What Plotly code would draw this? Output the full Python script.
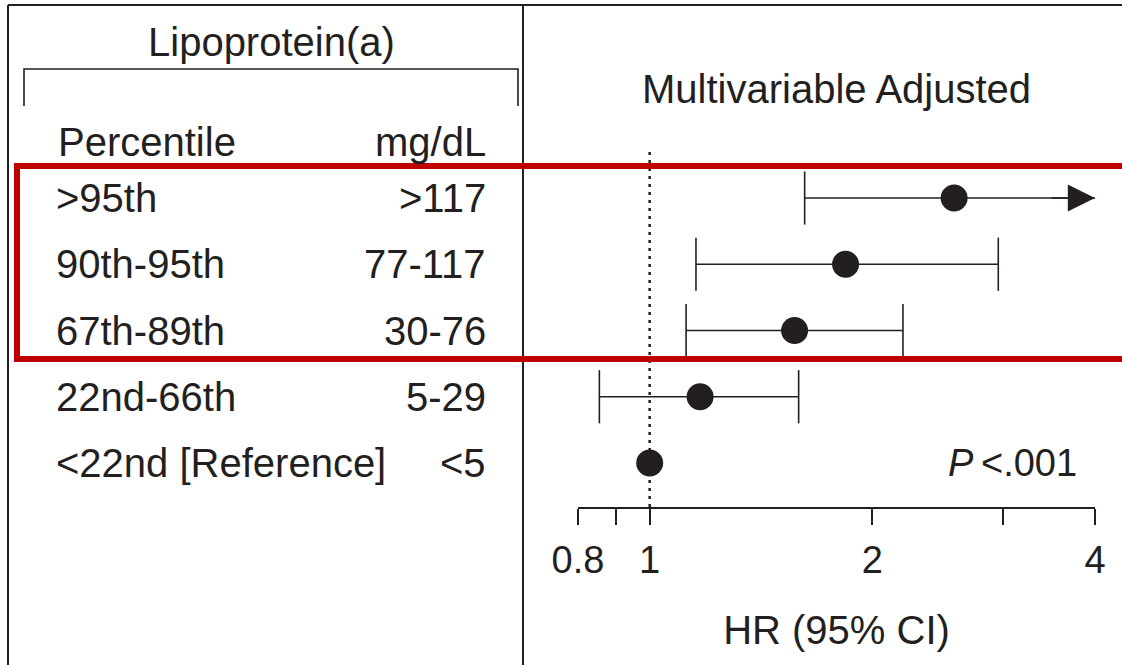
import math
import plotly.graph_objects as go

W, H = 1122, 665

# ---------------- data ----------------
percentiles = [">95th", "90th-95th", "67th-89th", "22nd-66th", "<22nd [Reference]"]
mg_dl = [">117", "77-117", "30-76", "5-29", "<5"]
hr = [2.58, 1.84, 1.57, 1.17, 1.0]
ci_low = [1.62, 1.155, 1.12, 0.855, None]
ci_high = [float("inf"), 2.96, 2.20, 1.59, None]  # inf = beyond the axis (arrow)
tick_vals = [0.8, 0.9, 1, 2, 3, 4]
tick_text = ["0.8", "", "1", "2", "", "4"]
x_min, x_max = 0.8, 4
reference_hr = 1
p_value_text = "<i>P</i>\u2009&lt;.001"
group_title = "Lipoprotein(a)"
col_headers = ["Percentile", "mg/dL"]
panel_title = "Multivariable Adjusted"
x_title = "HR (95% CI)"

# ---------------- style ----------------
INK = "#231F20"
FONT = "Liberation Sans, Arial, Helvetica, sans-serif"
FS = 40
FS_TICK = 38


def fx(px):
    return px / W


def fy(py):
    return 1 - py / H


def esc(s):
    return s.replace("<", "&lt;").replace(">", "&gt;")


rows_y = list(range(len(percentiles) - 1, -1, -1))

# plot-area geometry (pixels)
row_px_first, row_px_last = 198, 463
spacing = (row_px_last - row_px_first) / (len(rows_y) - 1)
plot_top_px, plot_bot_px = 130, 507
y_lo = -(plot_bot_px - row_px_last) / spacing
y_hi = (row_px_last - plot_top_px) / spacing
dotted_top = (row_px_last - 152) / spacing

fig = go.Figure()

# reference (HR = 1) dotted line
fig.add_trace(go.Scatter(x=[reference_hr, reference_hr], y=[y_lo, dotted_top], mode="lines",
                         line=dict(color=INK, width=2.5, dash="3px,5px"),
                         hoverinfo="skip", showlegend=False, cliponaxis=False))

# CI lines
lx, ly = [], []
for y, lo, hi in zip(rows_y, ci_low, ci_high):
    if lo is None:
        continue
    lx += [lo, min(hi, x_max), None]
    ly += [y, y, None]
fig.add_trace(go.Scatter(x=lx, y=ly, mode="lines",
                         line=dict(color=INK, width=1.6),
                         hoverinfo="skip", showlegend=False, cliponaxis=False))

# caps
cx, cy = [], []
for y, lo, hi in zip(rows_y, ci_low, ci_high):
    if lo is not None:
        cx.append(lo); cy.append(y)
    if hi is not None and math.isfinite(hi):
        cx.append(hi); cy.append(y)
fig.add_trace(go.Scatter(x=cx, y=cy, mode="markers",
                         marker=dict(symbol="line-ns", size=38,
                                     line=dict(color=INK, width=1.6)),
                         hoverinfo="skip", showlegend=False, cliponaxis=False))

# point estimates
fig.add_trace(go.Scatter(x=hr, y=rows_y, mode="markers",
                         marker=dict(symbol="circle", size=27, color=INK,
                                     line=dict(width=0)),
                         showlegend=False, cliponaxis=False))

annotations = []
# arrows for CI beyond the axis
for y, hi in zip(rows_y, ci_high):
    if hi is not None and not math.isfinite(hi):
        annotations.append(dict(x=math.log10(x_max), y=y, xref="x", yref="y",
                                ax=-45, ay=0, text="", showarrow=True,
                                arrowhead=2, arrowsize=3.4, arrowwidth=1.6,
                                arrowcolor=INK))

# left table rows
for y, p, m in zip(rows_y, percentiles, mg_dl):
    annotations.append(dict(x=fx(54), y=y, xref="paper", yref="y", text=esc(p),
                            showarrow=False, xanchor="left", yanchor="middle",
                            font=dict(size=FS, color=INK, family=FONT)))
    annotations.append(dict(x=fx(488), y=y, xref="paper", yref="y", text=esc(m),
                            showarrow=False, xanchor="right", yanchor="middle",
                            font=dict(size=FS, color=INK, family=FONT)))

# headers
annotations += [
    dict(x=fx(271), y=fy(42), xref="paper", yref="paper", text=group_title,
         showarrow=False, xanchor="center", yanchor="middle",
         font=dict(size=FS, color=INK, family=FONT)),
    dict(x=fx(56), y=fy(142), xref="paper", yref="paper", text=col_headers[0],
         showarrow=False, xanchor="left", yanchor="middle",
         font=dict(size=FS, color=INK, family=FONT)),
    dict(x=fx(488), y=fy(142), xref="paper", yref="paper", text=col_headers[1],
         showarrow=False, xanchor="right", yanchor="middle",
         font=dict(size=FS, color=INK, family=FONT)),
    dict(x=fx(836), y=fy(89), xref="paper", yref="paper", text=panel_title,
         showarrow=False, xanchor="center", yanchor="middle",
         font=dict(size=FS, color=INK, family=FONT)),
    dict(x=fx(1079), y=rows_y[-1], xref="paper", yref="y", text=p_value_text,
         showarrow=False, xanchor="right", yanchor="middle",
         font=dict(size=FS_TICK, color=INK, family=FONT)),
]

shapes = [
    # frame lines
    dict(type="line", xref="paper", yref="paper", x0=fx(8), x1=1, y0=fy(5), y1=fy(5),
         line=dict(color=INK, width=2)),
    dict(type="line", xref="paper", yref="paper", x0=fx(8), x1=fx(8), y0=fy(5), y1=0,
         line=dict(color=INK, width=2)),
    dict(type="line", xref="paper", yref="paper", x0=fx(523), x1=fx(523), y0=fy(5), y1=0,
         line=dict(color=INK, width=2)),
    # bracket
    dict(type="path", xref="paper", yref="paper",
         path=f"M {fx(24)},{fy(106)} L {fx(24)},{fy(69)} L {fx(518)},{fy(69)} L {fx(518)},{fy(106)}",
         line=dict(color=INK, width=1.6)),
    # red highlight box
    dict(type="rect", xref="paper", yref="paper", x0=fx(17), x1=1.02,
         y0=fy(359), y1=fy(166), line=dict(color="#C00000", width=6)),
]

fig.update_layout(
    width=W, height=H, autosize=False,
    margin=dict(l=0, r=0, t=0, b=0),
    paper_bgcolor="white", plot_bgcolor="rgba(0,0,0,0)",
    font=dict(family=FONT, color=INK, size=FS),
    showlegend=False,
    xaxis=dict(type="log", range=[math.log10(x_min), math.log10(x_max)],
               domain=[fx(578), fx(1095)], showline=True, linecolor=INK, linewidth=1.6,
               ticks="outside", ticklen=16, tickwidth=1.6, tickcolor=INK,
               tickvals=tick_vals, ticktext=tick_text, ticklabelstandoff=3,
               tickfont=dict(size=FS_TICK, color=INK, family=FONT),
               title=dict(text=x_title, standoff=36, font=dict(size=FS, color=INK, family=FONT)),
               showgrid=False, zeroline=False, automargin=False, fixedrange=True),
    yaxis=dict(range=[y_lo, y_hi], domain=[fy(plot_bot_px), fy(plot_top_px)],
               visible=False, showgrid=False, zeroline=False, fixedrange=True),
    annotations=annotations,
    shapes=shapes,
)

fig.write_html("out.html", config={"displayModeBar": False},
               post_script="document.body.style.margin='0';document.body.style.overflow='hidden';")
